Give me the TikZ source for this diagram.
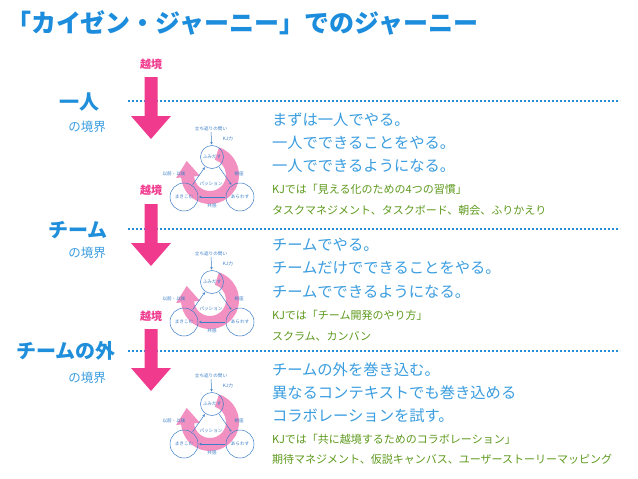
\documentclass[tikz,border=0pt]{standalone}
\usepackage{fontspec}
\setmainfont{Noto Sans CJK JP}
\usetikzlibrary{calc,arrows.meta}
\definecolor{ttl}{HTML}{1C8CDC}
\definecolor{lbl}{HTML}{1F8FDB}
\definecolor{bdy}{HTML}{3A9DE0}
\definecolor{grn}{HTML}{5E9A1E}
\definecolor{pnk}{HTML}{F03A8E}
\definecolor{arcpink}{HTML}{F27DB8}
\definecolor{cyc}{HTML}{3C7FC8}
\newcommand\fsz[1]{\fontsize{#1}{#1}\selectfont}
\begin{document}
\begin{tikzpicture}[x=1pt,y=-1pt,
  every node/.style={inner sep=0pt,outer sep=0pt},
  ttlstyle/.style={font=\fsz{25}\bfseries,text=ttl,anchor=west},
  lvl/.style={font=\fsz{20}\bfseries,text=lbl},
  sub/.style={font=\fsz{12.5},text=bdy},
  body/.style={font=\fsz{15.3},text=bdy,anchor=west},
  note/.style={font=\fsz{11},text=grn,anchor=west},
  cross/.style={font=\fsz{11}\bfseries,text=pnk},
  border/.style={draw=lbl,line width=2.2pt,dash pattern=on 2.2pt off 1.8pt},
  cyctext/.style={font=\fsz{4.6},text=cyc},
  cycnode/.style={circle,draw=cyc,line width=0.5pt,font=\fsz{4.6},text=cyc},
  cycarrow/.style={draw=cyc,line width=0.5pt,-{Stealth[length=2.5pt,width=2.5pt]},shorten >=1pt,shorten <=1pt},
  bigarrow/.pic={\fill[pnk] (-6.5,0) -- (6.5,0) -- (6.5,39) -- (20,39) -- (0,62) -- (-20,39) -- (-6.5,39) -- cycle;},
  kjcycle/.pic={
    \coordinate (-c) at (-1,46);
    \fill[arcpink,opacity=0.85] ($(-c)+(-72:29)$) arc[start angle=-72,end angle=175,radius=29]
       -- ($(-c)+(175:34)$) -- ($(-c)+(175:22)+(-95:16)$) -- ($(-c)+(175:10)$)
       -- ($(-c)+(175:16)$) arc[start angle=175,end angle=-72,radius=16] -- cycle;
    \node[cyctext] (-q) at (0,0) {立ち返りの問い};
    \node[cyctext] (-kj) at (17,10) {KJ力};
    \node[cycnode,minimum size=23pt] (-top) at (1,28) {ふみだす};
    \node[cycnode,minimum size=28pt] (-left) at (-27,68) {まきこむ};
    \node[cycnode,minimum size=28pt] (-right) at (29,68) {あらわす};
    \node[cyctext] (-mid) at (0,55) {パッション};
    \node[cyctext] (-ll) at (-37,45) {以前・以後};
    \node[cyctext] (-rl) at (28,45) {視座};
    \node[cyctext] (-bl) at (1,77) {共感};
    \draw[cycarrow] (-q) -- (-top);
    \draw[cycarrow] (-top) -- (-right);
    \draw[cycarrow] (-right) -- (-left);
    \draw[cycarrow] (-left) -- (-top);
  }]
\useasboundingbox[fill=white] (0,0) rectangle (638,479);

\node[ttlstyle] (title) at (6,23) {「カイゼン・ジャーニー」でのジャーニー};

% boundaries
\coordinate (b1a) at (128,101); \coordinate (b1b) at (620,101);
\coordinate (b2a) at (128,229); \coordinate (b2b) at (620,229);
\coordinate (b3a) at (128,351); \coordinate (b3b) at (620,351);
\draw[border] (b1a) -- (b1b);
\draw[border] (b2a) -- (b2b);
\draw[border] (b3a) -- (b3b);

\node[lvl] (lv1) at (79,102) {一人};
\node[sub] (s1) at (87,127) {の境界};
\node[lvl] (lv2) at (78,230) {チーム};
\node[sub] (s2) at (87,253) {の境界};
\node[lvl] (lv3) at (66,351) {チームの外};
\node[sub] (s3) at (87,378) {の境界};

% crossing arrows
\node[cross] (x1) at (151,64) {越境};
\node[cross] (x2) at (151,190) {越境};
\node[cross] (x3) at (151,316) {越境};
\pic (a1) at (151,77) {bigarrow};
\pic (a2) at (151,204) {bigarrow};
\pic (a3) at (151,329) {bigarrow};

% cycles
\pic (c1) at (211,129) {kjcycle};
\pic (c2) at (211,254) {kjcycle};
\pic (c3) at (211,376) {kjcycle};

% block 1
\node[body] (t11) at (272,120) {まずは一人でやる。};
\node[body] (t12) at (272,143) {一人でできることをやる。};
\node[body] (t13) at (272,166) {一人でできるようになる。};
\node[note] (n11) at (272,189) {KJでは「見える化のための4つの習慣」};
\node[note] (n12) at (272,210) {タスクマネジメント、タスクボード、朝会、ふりかえり};
% block 2
\node[body] (t21) at (272,245) {チームでやる。};
\node[body] (t22) at (272,268) {チームだけでできることをやる。};
\node[body] (t23) at (272,292) {チームでできるようになる。};
\node[note] (n21) at (272,315) {KJでは「チーム開発のやり方」};
\node[note] (n22) at (272,336) {スクラム、カンバン};
% block 3
\node[body] (t31) at (272,370) {チームの外を巻き込む。};
\node[body] (t32) at (272,393) {異なるコンテキストでも巻き込める};
\node[body] (t33) at (272,416) {コラボレーションを試す。};
\node[note] (n31) at (272,439) {KJでは「共に越境するためのコラボレーション」};
\node[note] (n32) at (272,459) {期待マネジメント、仮説キャンバス、ユーザーストーリーマッピング};
\end{tikzpicture}
\end{document}
